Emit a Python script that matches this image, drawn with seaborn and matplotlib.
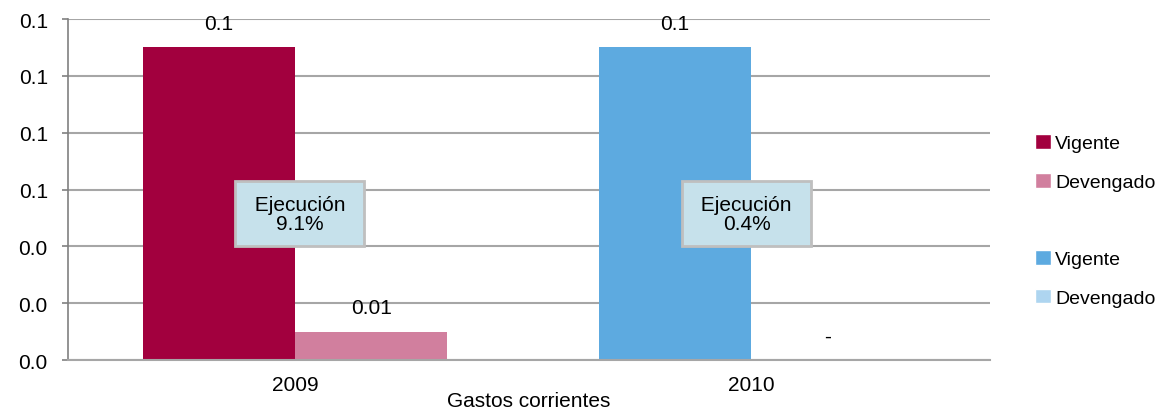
import matplotlib
matplotlib.use("Agg")
import matplotlib.pyplot as plt
import seaborn as sns
import pandas as pd
from matplotlib.patches import Patch

# data
years = ["2009", "2010"]
tipos = ["Vigente", "Devengado"]
vigente = [0.11, 0.11]
devengado = [0.01, 0.0]
value_labels = [["0.1", "0.01"], ["0.1", "-"]]
ejecucion = ["9.1%", "0.4%"]
category = "Gastos corrientes"
yticks = [0.0, 0.02, 0.04, 0.06, 0.08, 0.10, 0.12]
ytick_labels = ["0.0", "0.0", "0.0", "0.1", "0.1", "0.1", "0.1"]

colors = {"2009": ["#A2003E", "#D17F9E"], "2010": ["#5DAAE0", "#AED5F0"]}

df = pd.DataFrame({
    "year": years * 2,
    "tipo": ["Vigente"] * 2 + ["Devengado"] * 2,
    "valor": vigente + devengado,
})

sns.set_theme(style="white")
plt.rcParams["font.family"] = ["Liberation Sans", "DejaVu Sans"]
plt.rcParams["text.color"] = "black"
plt.rcParams["xtick.labelcolor"] = "black"
plt.rcParams["ytick.labelcolor"] = "black"
FS = 15

fig = plt.figure(figsize=(11.62, 4.10), dpi=100)
ax = fig.add_axes([0.0585, 0.1195, 0.7935, 0.8317])

sns.barplot(data=df, x="year", y="valor", hue="tipo", order=years,
            hue_order=tipos, width=0.667, saturation=1, legend=False,
            ax=ax, zorder=2)

# recolour each bar by year/type and label it
for ti, cont in enumerate(ax.containers):
    for yi, bar in enumerate(cont):
        bar.set_facecolor(colors[years[yi]][ti])
        bar.set_edgecolor("none")
        ax.annotate(value_labels[yi][ti],
                    (bar.get_x() + bar.get_width() / 2, bar.get_height()),
                    xytext=(0, 17), textcoords="offset points",
                    ha="center", va="center", fontsize=FS, color="black")

# Ejecución boxes
for yi, e in enumerate(ejecucion):
    ax.text(yi + (0.01 if yi == 0 else -0.01), 0.0514,
            " Ejecución \n" + e, ha="center", va="center",
            fontsize=FS, linespacing=1.0, zorder=5,
            bbox=dict(boxstyle="square,pad=0.65", facecolor="#C6E1EB",
                      edgecolor="#BFBFBF", linewidth=2))

xl, xr = -0.498, 1.524
ax.set_xlim(xl, xr)
ax.set_ylim(0, 0.12)
ax.set_yticks(yticks)
ax.set_yticklabels(ytick_labels, fontsize=FS)
ax.yaxis.grid(True, color="#A6A6A6", linewidth=1.5, zorder=0)
ax.set_axisbelow(True)

ax.set_xticks([0, 1])
ax.set_xticklabels(years, fontsize=FS)
ax.set_xticks([xl, xr], minor=True)
ax.tick_params(axis="x", which="major", length=0, pad=11)
ax.tick_params(axis="x", which="minor", length=6, width=1.2, color="#808080")
ax.tick_params(axis="y", length=4.5, width=1.2, color="#808080", pad=10,
               left=True)
ax.set_xlabel("")
ax.set_ylabel("")
ax.text(0.5, -0.12, category, transform=ax.transAxes, ha="center",
        va="center", fontsize=FS)

for s in ["top", "right"]:
    ax.spines[s].set_visible(False)
ax.spines["left"].set_color("#808080")
ax.spines["left"].set_linewidth(1.2)
ax.spines["bottom"].set_color("#A6A6A6")
ax.spines["bottom"].set_linewidth(1.5)

handles = [
    Patch(facecolor=colors["2009"][0], label="Vigente"),
    Patch(facecolor=colors["2009"][1], label="Devengado"),
    Patch(facecolor="none", edgecolor="none", label=" "),
    Patch(facecolor=colors["2010"][0], label="Vigente"),
    Patch(facecolor=colors["2010"][1], label="Devengado"),
]
fig.legend(handles=handles, loc="center left", bbox_to_anchor=(0.884, 0.46),
           frameon=False, fontsize=14, handlelength=0.8, handleheight=0.8,
           handletextpad=0.25, labelspacing=1.05, borderaxespad=0)

fig.savefig("out.png", dpi=100)
